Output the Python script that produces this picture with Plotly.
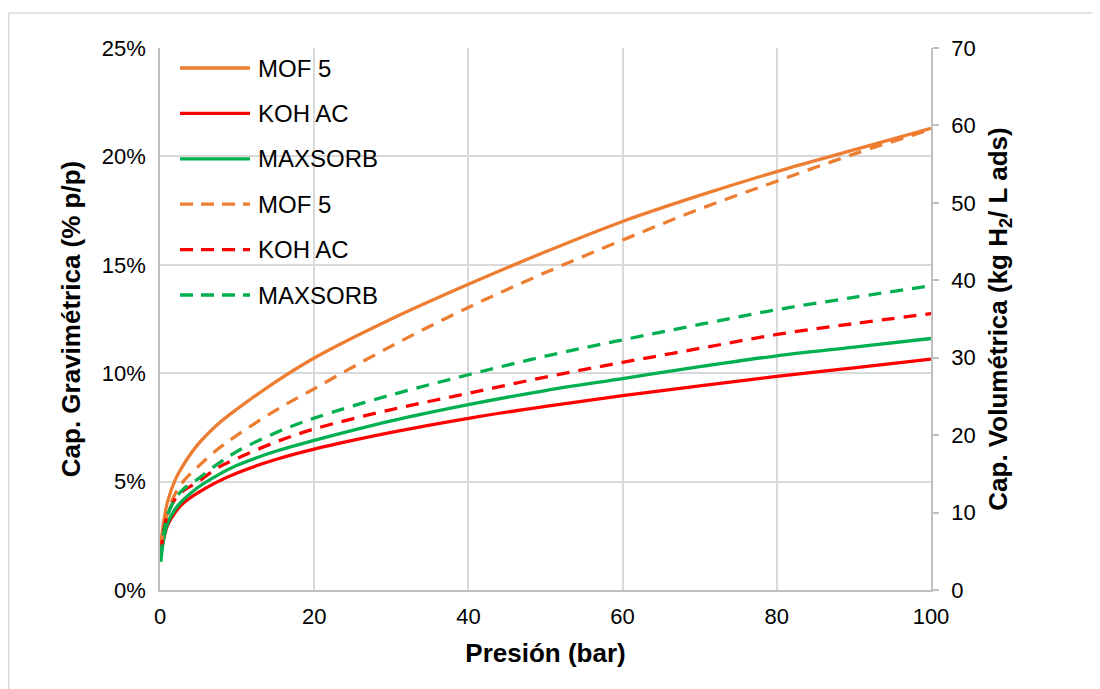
import plotly.graph_objects as go

# ---------------- data ----------------
pressure_bar = [0.1, 0.5, 1, 2, 3, 5, 7.5, 10, 15, 20, 30, 40, 50, 60, 70, 80, 90, 100]

series_names = ["MOF 5", "KOH AC", "MAXSORB"]
series_colors = ["#ED7D31", "#FF0000", "#00B050"]

# Gravimetric capacity (% p/p) - left axis (solid lines)
grav_mof5 = [2.1, 3.2, 4.1, 5.1, 5.75, 6.75, 7.65, 8.35, 9.6, 10.7, 12.5, 14.1, 15.6, 17.0, 18.2, 19.3, 20.3, 21.3]
grav_koh = [1.7, 2.4, 3.0, 3.6, 4.0, 4.5, 5.0, 5.4, 6.02, 6.5, 7.27, 7.92, 8.47, 8.97, 9.42, 9.85, 10.25, 10.65]
grav_maxsorb = [1.3, 2.4, 3.1, 3.75, 4.15, 4.75, 5.3, 5.75, 6.4, 6.9, 7.8, 8.55, 9.2, 9.75, 10.3, 10.8, 11.2, 11.6]

# Volumetric capacity (kg H2 / L ads) - right axis (dashed lines)
vol_mof5 = [5.8, 8.0, 10.0, 12.5, 14.0, 16.0, 18.2, 20.0, 23.2, 26.0, 31.5, 36.5, 41.0, 45.2, 49.2, 52.8, 56.3, 59.5]
vol_koh = [4.8, 7.8, 9.8, 11.8, 12.8, 14.0, 15.8, 17.0, 19.1, 20.8, 23.3, 25.4, 27.5, 29.4, 31.2, 33.0, 34.4, 35.7]
vol_maxsorb = [4.2, 7.5, 9.7, 11.8, 13.0, 14.4, 16.3, 17.9, 20.3, 22.2, 25.2, 27.8, 30.2, 32.3, 34.3, 36.2, 37.8, 39.3]

x_ticks = [0, 20, 40, 60, 80, 100]
y_left_ticks = [0, 5, 10, 15, 20, 25]
y_left_labels = [f"{v}%" for v in y_left_ticks]
y_right_ticks = [0, 10, 20, 30, 40, 50, 60, 70]

grav_series = [grav_mof5, grav_koh, grav_maxsorb]
vol_series = [vol_mof5, vol_koh, vol_maxsorb]

# ---------------- styles ----------------
FONT = "Liberation Sans, Arial, sans-serif"
GRID = "#D9D9D9"
AXIS = "#BFBFBF"
LW = 3.3
DASH = "13px,9px"

fig = go.Figure()

for name, color, ys in zip(series_names, series_colors, grav_series):
    fig.add_trace(go.Scatter(
        x=pressure_bar, y=ys, name=name, mode="lines",
        line=dict(color=color, width=LW, shape="spline", smoothing=1.0),
        yaxis="y", showlegend=False))

for name, color, ys in zip(series_names, series_colors, vol_series):
    fig.add_trace(go.Scatter(
        x=pressure_bar, y=ys, name=name, mode="lines",
        line=dict(color=color, width=LW, dash=DASH, shape="spline", smoothing=1.0),
        yaxis="y2", showlegend=False))

# ---------------- layout geometry ----------------
# page body has an 8px margin; figure sits at page (8, 8)
OFF = 8
W, H = 1100 - OFF, 689 - OFF
PL, PR, PT, PB = 160, 931, 48, 590          # plot area in page pixels
L, R, T, B = PL - OFF, W - (PR - OFF), PT - OFF, H - (PB - OFF)
pw, ph = PR - PL, PB - PT


def px_x(p):
    return (p - PL) / pw


def px_y(p):
    return (PB - p) / ph


# custom legend (long line samples like the original)
legend_items = [(n, c, "solid") for n, c in zip(series_names, series_colors)] + \
               [(n, c, "dash") for n, c in zip(series_names, series_colors)]
shapes = []
annotations = []
row0, row_step = 68, 45.4
for i, (name, color, style) in enumerate(legend_items):
    yy = px_y(row0 + i * row_step)
    shapes.append(dict(type="line", xref="paper", yref="paper",
                       x0=px_x(180), x1=px_x(250), y0=yy, y1=yy,
                       line=dict(color=color, width=LW,
                                 dash=("solid" if style == "solid" else "13px,8px"))))
    annotations.append(dict(xref="paper", yref="paper", x=px_x(256), y=yy,
                            xanchor="left", yanchor="middle", showarrow=False,
                            text=name, font=dict(family=FONT, size=24, color="#000000")))

# outer chart frame (partly outside the visible window, as in the original)
shapes.append(dict(type="line", xref="paper", yref="paper",
                   x0=px_x(8.8), x1=px_x(1100), y0=px_y(13), y1=px_y(13),
                   line=dict(color=GRID, width=1.5)))
shapes.append(dict(type="line", xref="paper", yref="paper",
                   x0=px_x(8.8), x1=px_x(8.8), y0=px_y(13), y1=px_y(689),
                   line=dict(color=GRID, width=1.5)))

fig.update_layout(
    width=W, height=H,
    margin=dict(l=L, r=R, t=T, b=B, pad=0, autoexpand=False),
    paper_bgcolor="white", plot_bgcolor="white",
    font=dict(family=FONT, size=22, color="#000000"),
    showlegend=False,
    shapes=shapes,
    annotations=annotations,
    xaxis=dict(
        range=[0, 100], tickvals=x_ticks, ticks="", showgrid=True, gridcolor=GRID,
        gridwidth=1.5, showline=True, linecolor=AXIS, linewidth=1.5, zeroline=False,
        tickfont=dict(size=22), ticklabelstandoff=6,
        title=dict(text="<b>Presión (bar)</b>", font=dict(size=26), standoff=16),
    ),
    yaxis=dict(
        range=[0, 25], tickvals=y_left_ticks, ticktext=y_left_labels, ticks="",
        showgrid=True, gridcolor=GRID, gridwidth=1.5, showline=True, linecolor=AXIS,
        linewidth=1.5, zeroline=False, tickfont=dict(size=22), ticklabelstandoff=8,
        title=dict(text="<b>Cap. Gravimétrica (% p/p)</b>", font=dict(size=26), standoff=14),
    ),
    yaxis2=dict(
        range=[0, 70], tickvals=y_right_ticks, overlaying="y", side="right",
        showgrid=False, showline=True, linecolor=AXIS, linewidth=1.5, zeroline=False,
        ticks="outside", ticklen=6, tickcolor=AXIS, tickwidth=1.5,
        tickfont=dict(size=22), ticklabelstandoff=8,
        title=dict(text="<b>Cap. Volumétrica (kg H<sub>2</sub>/ L ads)</b>",
                   font=dict(size=26), standoff=14),
    ),
)

fig.write_html("out.html")
